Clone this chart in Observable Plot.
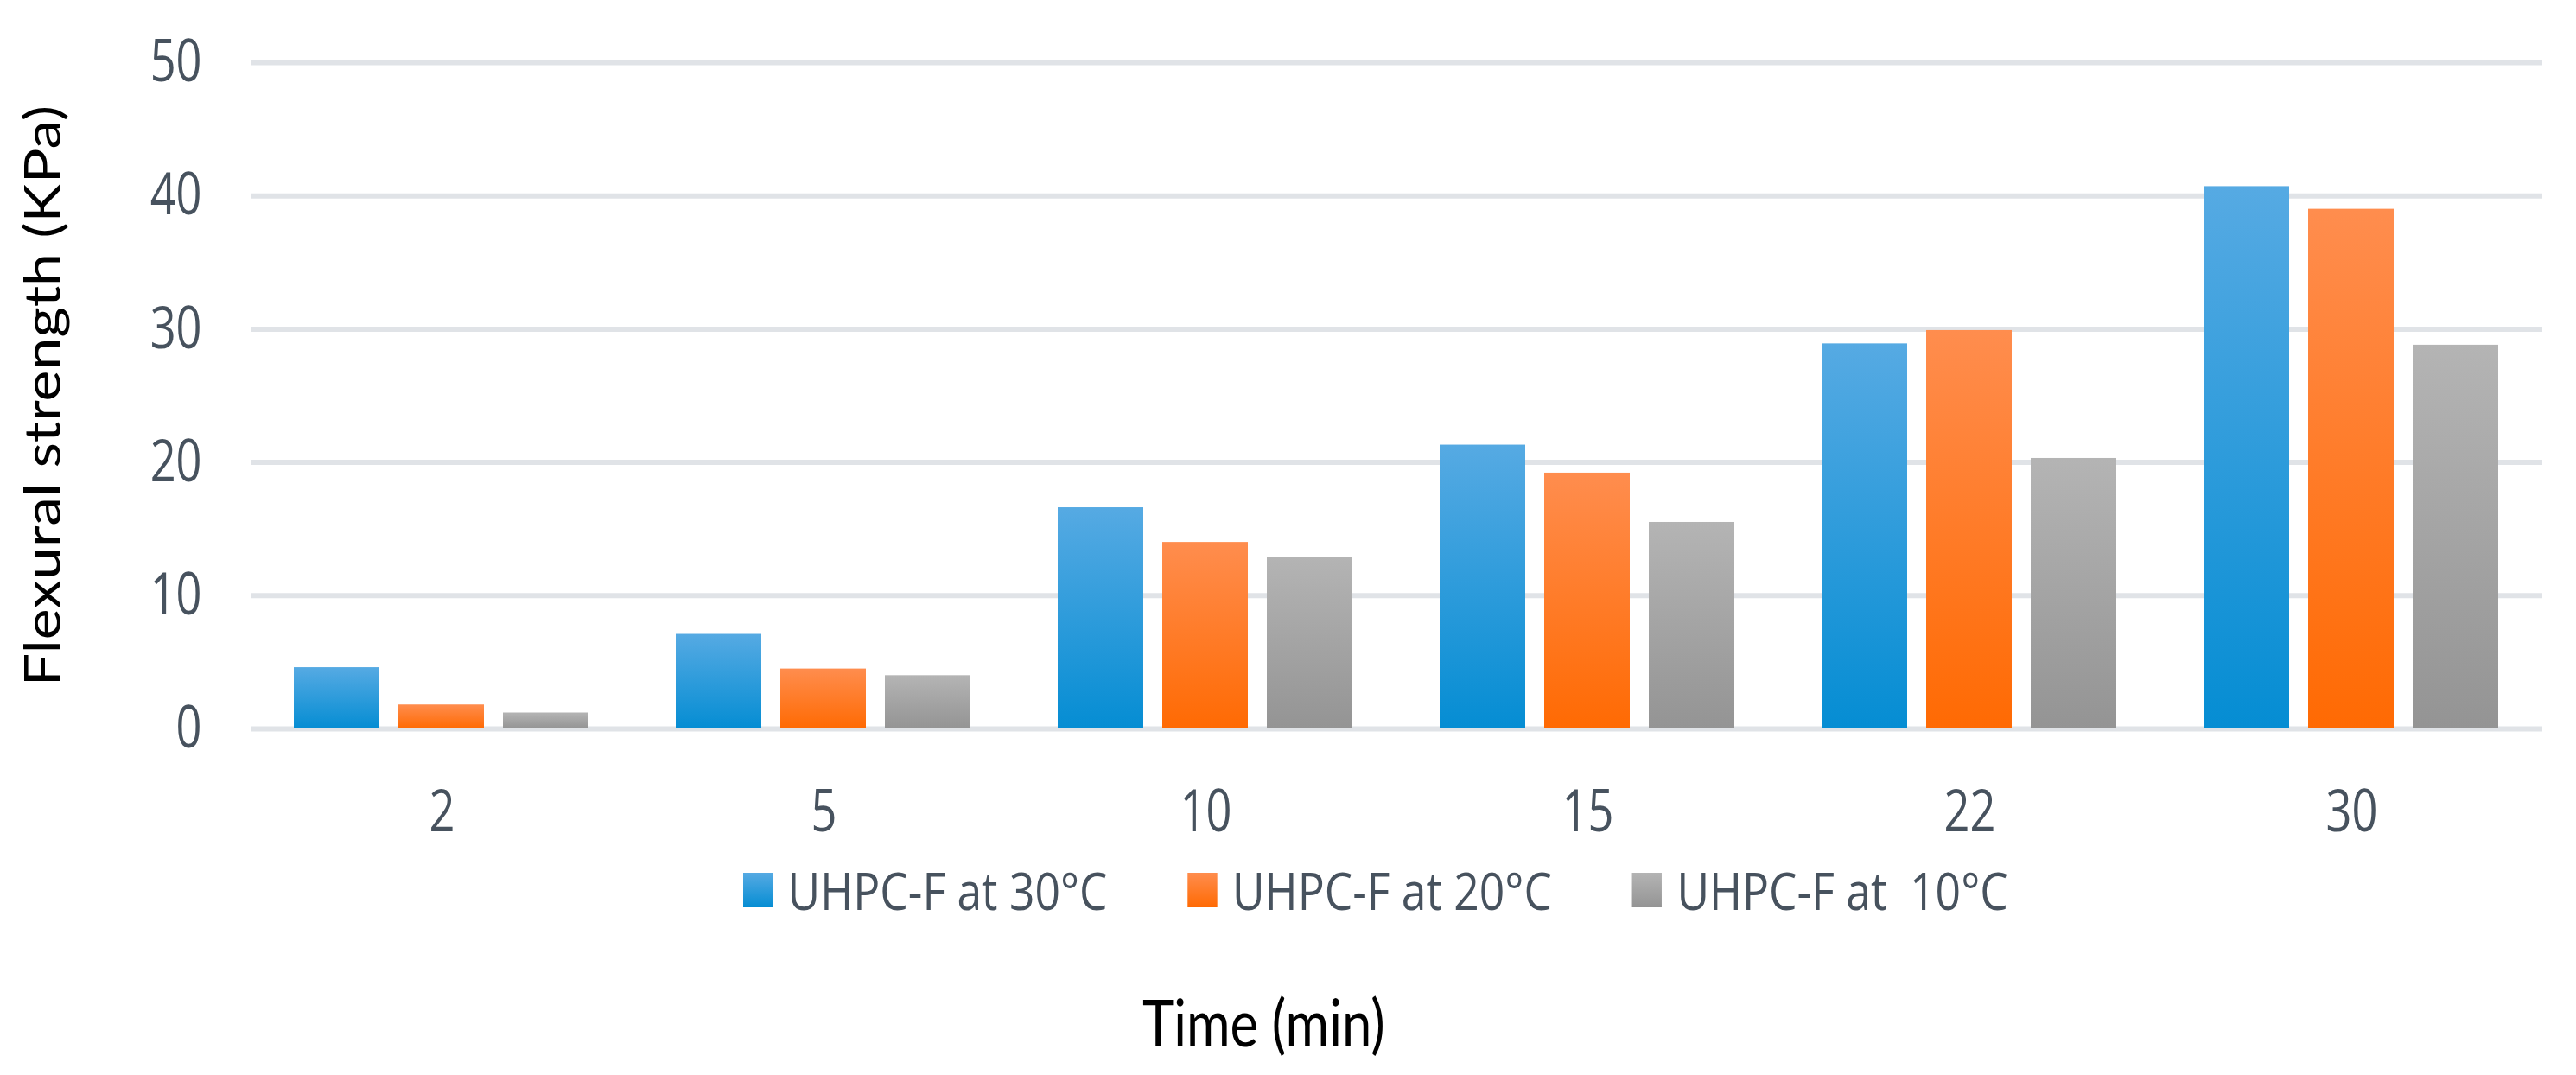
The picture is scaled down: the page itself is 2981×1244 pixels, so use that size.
<!DOCTYPE html>
<html>
<head>
<meta charset="utf-8">
<script src="https://cdn.jsdelivr.net/npm/d3@7"></script>
<script src="https://cdn.jsdelivr.net/npm/@observablehq/plot@0.6"></script>
<style>
  body { margin: 0; background: #fff; }
  #wrap { position: relative; width: 2981px; height: 1244px; overflow: hidden; background: #fff; }
  #wrap svg.chart text { font-family: 'Open Sans', sans-serif; }
  g[aria-label="y-axis label"] text { fill: #000; font-family: Lato, 'Open Sans', sans-serif !important; }
  #legend { position: absolute; left: 860px; top: 1000px; transform: scaleX(0.86); transform-origin: 0 0; }
  .lg-swatches { font-family: 'Open Sans', sans-serif !important; font-size: 60px !important; color: #47525e; margin: 0 !important; line-height: 1; }
  .lg-swatch { margin-right: 108px !important; white-space: pre; }
  .lg-swatch > svg { margin-right: 20px !important; }
  #xtitle { position: absolute; left: 1322px; top: 1145px; font-family: Lato, sans-serif; font-size: 75px; line-height: 1; color: #000; transform: scaleX(0.82); transform-origin: 0 0; white-space: pre; }
</style>
</head>
<body>
<div id="wrap"></div>
<script>
// ---- data ----
const times = [2, 5, 10, 15, 22, 30];
const series = ["UHPC-F at 30°C", "UHPC-F at 20°C", "UHPC-F at  10°C"];
const s30 = [4.6, 7.1, 16.6, 21.3, 28.9, 40.7];
const s20 = [1.8, 4.5, 14.0, 19.2, 29.9, 39.0];
const s10 = [1.2, 4.0, 12.9, 15.5, 20.3, 28.8];
const yTicks = [0, 10, 20, 30, 40, 50];
const yLabel = "Flexural strength (KPa)";
const xLabel = "Time (min)";

const values = [s30, s20, s10];
const rows = times.flatMap((t, i) => series.map((s, j) => ({time: t, series: s, value: values[j][i]})));

const gradients = [
  ["g30", "#56aae3", "#058dd3"],
  ["g20", "#ff8d4e", "#ff6a03"],
  ["g10", "#b4b4b4", "#949494"]
];

const chart = Plot.plot({
  width: 2981,
  height: 1244,
  marginLeft: 290,
  marginRight: 39,
  marginTop: 72,
  marginBottom: 401,
  className: "chart",
  style: {background: "white", fontFamily: "'Open Sans', sans-serif", overflow: "visible"},
  fx: {domain: times, padding: 0},
  x: {domain: series, paddingInner: 0.18, paddingOuter: 0.41, axis: null},
  y: {domain: [0, 50]},
  color: {domain: series, range: gradients.map(g => `url(#${g[0]})`)},
  marks: [
    Plot.ruleY(yTicks, {stroke: "#e0e3e7", strokeWidth: 6}),
    Plot.barY(rows, {fx: "time", x: "series", y: "value", fill: "series"}),
    Plot.axisY({
      ticks: yTicks, tickSize: 0, tickPadding: 57, fontSize: 68, fill: "#47525e",
      label: yLabel, labelAnchor: "center", labelOffset: 262, labelArrow: "none"
    }),
    Plot.axisFx({
      anchor: "bottom", tickSize: 0, tickPadding: 70, fontSize: 68, fill: "#47525e", label: null
    })
  ]
});

// gradient defs
const defs = d3.select(chart).insert("defs", ":first-child");
for (const [id, top, bot] of gradients) {
  const g = defs.append("linearGradient").attr("id", id).attr("x1", 0).attr("y1", 0).attr("x2", 0).attr("y2", 1);
  g.append("stop").attr("offset", "0%").attr("stop-color", top);
  g.append("stop").attr("offset", "100%").attr("stop-color", bot);
}

// horizontal condensing of text to match the reference
d3.select(chart).selectAll('g[aria-label="y-axis tick label"] text, g[aria-label="fx-axis tick label"] text')
  .each(function() {
    const t = this.getAttribute("transform") || "";
    this.setAttribute("transform", t + " scale(0.77,1)");
  });
d3.select(chart).selectAll('g[aria-label="y-axis label"] text')
  .each(function() {
    const t = this.getAttribute("transform") || "";
    this.setAttribute("transform", t + " scale(1,0.86)");
  });

const wrap = document.getElementById("wrap");
wrap.appendChild(chart);

const legend = chart.legend("color", {legend: "swatches", swatchSize: 40, className: "lg"});
const lg = document.createElement("div");
lg.id = "legend";
lg.appendChild(legend);
wrap.appendChild(lg);

const xt = document.createElement("div");
xt.id = "xtitle";
xt.textContent = xLabel;
wrap.appendChild(xt);
</script>
</body>
</html>
